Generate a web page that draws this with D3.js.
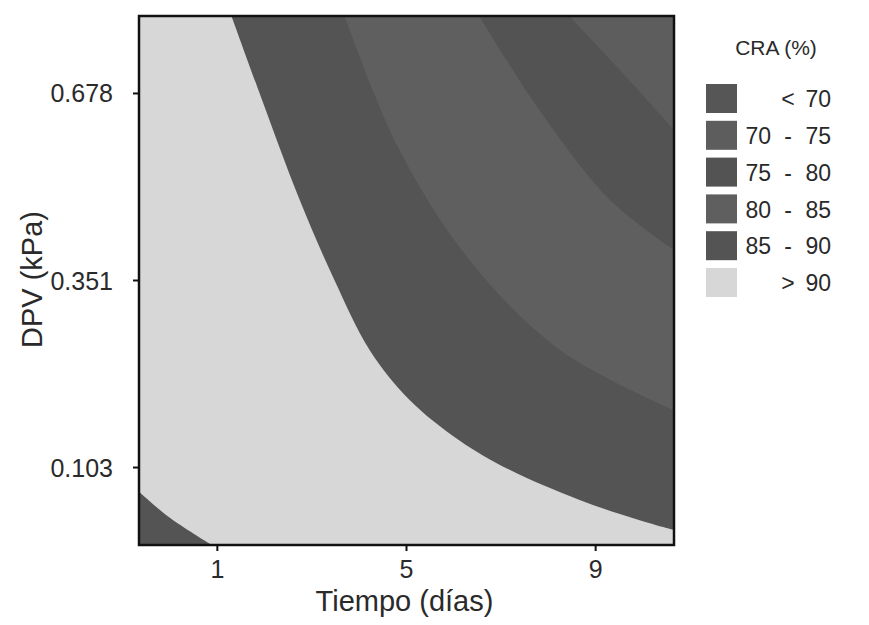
<!DOCTYPE html>
<html>
<head>
<meta charset="utf-8">
<title>CRA (%)</title>
<style>
  body { margin: 0; background: #fff; }
  text { font-family: "Liberation Sans", Arial, sans-serif; fill: #2a2a2a; }
</style>
</head>
<body>
<div id="chart"></div>
<script src="https://cdn.jsdelivr.net/npm/d3@7"></script>
<script>

// axis ticks (Tiempo in days, DPV in kPa at the coded levels -1, 0, 1)
var tiempoTicks = [1, 5, 9];
var dpvTicks = [0.103, 0.351, 0.678];
var codedLevels = [-1, 0, 1];

// legend classes, top to bottom
var classLo = ["", "70", "75", "80", "85", ""];
var classSep = ["<", "-", "-", "-", "-", ">"];
var classHi = ["70", "75", "80", "85", "90", "90"];
var classFill = ["#565656", "#5d5d5d", "#535353", "#5f5f5f", "#545454", "#d7d7d7"];

// contour lines, [tiempo, dpv]
var cra90 = [[1.30, 0.813], [1.93, 0.670], [2.74, 0.492], [3.48, 0.351], [4.22, 0.259],
             [5.06, 0.193], [6.12, 0.139], [7.18, 0.100], [8.66, 0.060], [9.93, 0.033], [10.66, 0.020]];
var cra90low = [[-0.66, 0.071], [-0.02, 0.037], [0.89, 0.0]];
var cra85 = [[3.69, 0.813], [4.85, 0.579], [6.33, 0.387], [8.24, 0.259], [10.66, 0.179]];
var cra80 = [[6.54, 0.813], [7.81, 0.649], [9.30, 0.492], [10.66, 0.404]];
var cra75 = [[8.45, 0.813], [9.51, 0.719], [10.66, 0.614]];

var w = 869, h = 625;
var pLeft = 139, pRight = 674, pTop = 16, pBottom = 545;
var alpha = 1.4142;

var svg = d3.select("#chart").append("svg")
    .attr("width", w).attr("height", h);

var x = d3.scaleLinear().domain([5 - 4 * alpha, 5 + 4 * alpha]).range([pLeft, pRight]);
var yc = d3.scaleLinear().domain([-alpha, alpha]).range([pBottom, pTop]);
var y = d3.scaleLinear().domain(dpvTicks).range(codedLevels.map(yc));

svg.append("clipPath").attr("id", "plotclip")
  .append("rect").attr("x", pLeft).attr("y", pTop)
  .attr("width", pRight - pLeft).attr("height", pBottom - pTop);

var plot = svg.append("g").attr("clip-path", "url(#plotclip)");

var line = d3.line()
    .x(function(d) { return x(d[0]); })
    .y(function(d) { return y(d[1]); })
    .curve(d3.curveCatmullRom.alpha(0.5));

// background class: > 90
plot.append("rect").attr("x", pLeft).attr("y", pTop)
    .attr("width", pRight - pLeft).attr("height", pBottom - pTop)
    .attr("fill", classFill[5]);

// regions right of each contour, painted from the 90 line inwards
var regions = [
  { pts: cra90, fill: classFill[4], corner: [pRight + 5, pTop - 5] },
  { pts: cra85, fill: classFill[3], corner: [pRight + 5, pTop - 5] },
  { pts: cra80, fill: classFill[2], corner: [pRight + 5, pTop - 5] },
  { pts: cra75, fill: classFill[1], corner: [pRight + 5, pTop - 5] },
  { pts: cra90low, fill: classFill[4], corner: [pLeft - 5, pBottom + 5] }
];

plot.selectAll("path.region")
  .data(regions)
  .enter().append("path")
  .attr("class", "region")
  .attr("d", function(d) { return line(d.pts) + "L" + d.corner[0] + "," + d.corner[1] + "Z"; })
  .attr("fill", function(d) { return d.fill; });

// frame
svg.append("rect").attr("x", pLeft).attr("y", pTop)
    .attr("width", pRight - pLeft).attr("height", pBottom - pTop)
    .attr("fill", "none").attr("stroke", "#111").attr("stroke-width", 2.5);

// x axis
var xAxis = svg.append("g").attr("transform", "translate(0," + pBottom + ")");
xAxis.selectAll("line").data(tiempoTicks).enter().append("line")
    .attr("x1", function(d) { return x(d); }).attr("x2", function(d) { return x(d); })
    .attr("y1", 0).attr("y2", 6).attr("stroke", "#111").attr("stroke-width", 2);
xAxis.selectAll("text").data(tiempoTicks).enter().append("text")
    .attr("x", function(d) { return x(d); }).attr("y", 33)
    .attr("text-anchor", "middle").attr("font-size", 25)
    .text(function(d) { return d; });

// y axis
var yAxis = svg.append("g").attr("transform", "translate(" + pLeft + ",0)");
yAxis.selectAll("line").data(dpvTicks).enter().append("line")
    .attr("x1", -6).attr("x2", 0)
    .attr("y1", function(d) { return y(d); }).attr("y2", function(d) { return y(d); })
    .attr("stroke", "#111").attr("stroke-width", 2);
yAxis.selectAll("text").data(dpvTicks).enter().append("text")
    .attr("x", -26).attr("y", function(d) { return y(d); }).attr("dy", "0.36em")
    .attr("text-anchor", "end").attr("font-size", 25)
    .text(function(d) { return d3.format(".3f")(d); });

// axis titles
svg.append("text").attr("x", (pLeft + pRight) / 2 - 2).attr("y", 611)
    .attr("text-anchor", "middle").attr("font-size", 29)
    .text("Tiempo (días)");
svg.append("text")
    .attr("transform", "translate(42," + ((pTop + pBottom) / 2 - 1) + ") rotate(-90)")
    .attr("text-anchor", "middle").attr("font-size", 29)
    .text("DPV (kPa)");

// legend
var legend = svg.append("g").attr("transform", "translate(706,0)");
legend.append("text").attr("x", 70).attr("y", 55)
    .attr("text-anchor", "middle").attr("font-size", 21).text("CRA (%)");

var rowY = d3.scalePoint().domain(d3.range(classHi.length)).range([99, 283]);
var rows = legend.selectAll("g.row").data(d3.range(classHi.length))
  .enter().append("g").attr("class", "row")
  .attr("transform", function(i) { return "translate(0," + rowY(i) + ")"; });

rows.append("rect").attr("x", 0).attr("y", -15).attr("width", 31).attr("height", 29)
    .attr("fill", function(i) { return classFill[i]; });
rows.append("text").attr("x", 65).attr("dy", "0.36em").attr("text-anchor", "end")
    .attr("font-size", 23).text(function(i) { return classLo[i]; });
rows.append("text").attr("x", 82).attr("dy", "0.36em").attr("text-anchor", "middle")
    .attr("font-size", 23).text(function(i) { return classSep[i]; });
rows.append("text").attr("x", 125).attr("dy", "0.36em").attr("text-anchor", "end")
    .attr("font-size", 23).text(function(i) { return classHi[i]; });

</script>
</body>
</html>
